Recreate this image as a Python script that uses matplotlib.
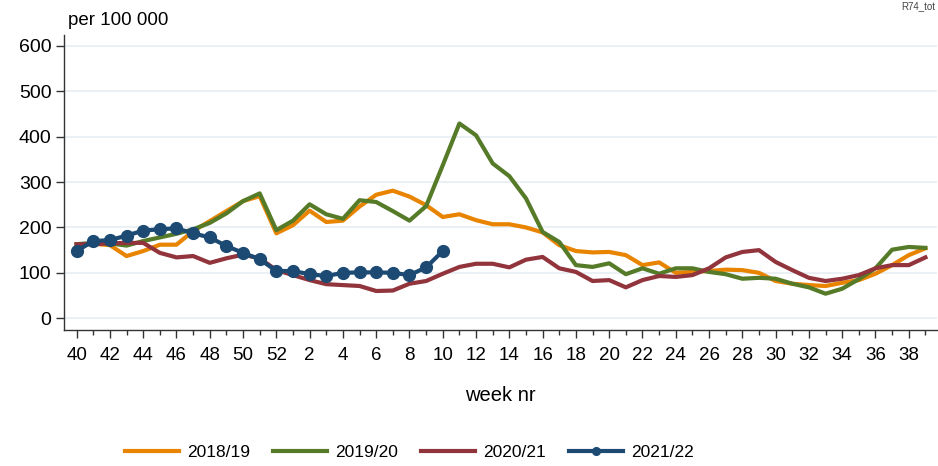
import numpy as np
import matplotlib
matplotlib.use("Agg")
from matplotlib import pyplot as plt
from matplotlib import font_manager
from matplotlib.ticker import FixedLocator

# week axis: 40..52 then 1..39
weeks = list(range(40, 53)) + list(range(1, 40))
tick_weeks = list(range(40, 53, 2)) + list(range(2, 40, 2))

s1819 = [162, 164, 161, 137, 148, 162, 162, 192, 214, 236, 258, 269, 187, 205, 237, 212, 215, 246, 272, 281,
         268, 249, 223, 229, 216, 207, 207, 200, 189, 161, 148, 145, 146, 139, 117, 123, 100, 102, 104, 107,
         106, 100, 82, 76, 73, 71, 78, 84, 98, 117, 139, 154]
s1920 = [163, 166, 165, 160, 170, 178, 186, 196, 210, 231, 258, 275, 194, 215, 251, 229, 219, 260, 256, 236,
         215, 247, 337, 429, 403, 341, 313, 264, 190, 168, 117, 113, 121, 97, 110, 98, 110, 110, 102, 97,
         87, 89, 87, 76, 68, 54, 65, 86, 110, 151, 157, 155]
s2021 = [163, 163, 165, 166, 166, 144, 134, 137, 122, 132, 140, 132, 106, 95, 84, 75, 73, 71, 60, 61,
         76, 82, 98, 113, 120, 120, 112, 129, 135, 110, 102, 82, 84, 68, 84, 93, 91, 95, 110, 134,
         146, 150, 124, 106, 89, 82, 87, 95, 110, 117, 117, 134]
s2122 = [148, 170, 172, 182, 193, 196, 198, 187, 178, 159, 144, 130, 104, 104, 97, 93, 100, 101, 101, 100,
         95, 112, 148]

labels = ["2018/19", "2019/20", "2020/21", "2021/22"]
colors = ["#E88400", "#557A28", "#91343C", "#1C4A73"]

names = {f.name for f in font_manager.fontManager.ttflist}
base_font = "Liberation Sans" if "Liberation Sans" in names else "DejaVu Sans"
narrow_font = "Liberation Sans Narrow" if "Liberation Sans Narrow" in names else base_font
plt.rcParams["font.family"] = [base_font, "DejaVu Sans"]

fig = plt.figure(figsize=(9.38, 4.66), dpi=100)
ax = fig.add_axes([0.0682, 0.2918, 0.9308, 0.6331])

x = np.arange(len(weeks))
for vals, lab, col in zip([s1819, s1920, s2021], labels[:3], colors[:3]):
    ax.plot(x[:len(vals)], vals, color=col, lw=3, label=lab)
ax.plot(x[:len(s2122)], s2122, color=colors[3], lw=3, marker="o", markersize=8.5, label=labels[3])

ax.set_xlim(-0.76, 51.7)
ax.set_ylim(-26, 624)
ax.set_yticks([0, 100, 200, 300, 400, 500, 600])
ax.yaxis.grid(True, color="#E6EDF1", lw=1.2)
ax.set_axisbelow(True)

major_pos = [weeks.index(w) for w in tick_weeks]
ax.set_xticks(major_pos)
ax.set_xticklabels([str(w) for w in tick_weeks], fontfamily=narrow_font, fontsize=13.5)
ax.xaxis.set_minor_locator(FixedLocator([i for i in x if i not in major_pos]))
ax.tick_params(axis="x", which="major", length=6, width=1, color="#333333", pad=6)
ax.tick_params(axis="x", which="minor", length=3.5, width=1, color="#333333")
ax.tick_params(axis="y", length=6, width=1, color="#333333", labelsize=14, pad=3)

for side in ["top", "right"]:
    ax.spines[side].set_visible(False)
for side in ["left", "bottom"]:
    ax.spines[side].set_color("#333333")
    ax.spines[side].set_linewidth(1)

ax.set_xlabel("week nr", fontsize=14.5, labelpad=16)
fig.text(0.0725, 0.957, "per 100 000", fontsize=13.5, ha="left", va="center")
fig.text(0.997, 0.998, "R74_tot", fontsize=7, ha="right", va="top", color="#444444")

leg = ax.legend(loc="center", bbox_to_anchor=(0.4365, 0.03), bbox_transform=fig.transFigure,
                ncol=4, frameon=False, handlelength=3.1, columnspacing=1.3, handletextpad=0.5,
                prop={"family": narrow_font, "size": 12.5}, markerscale=0.65)

fig.savefig("out.png", dpi=100)
